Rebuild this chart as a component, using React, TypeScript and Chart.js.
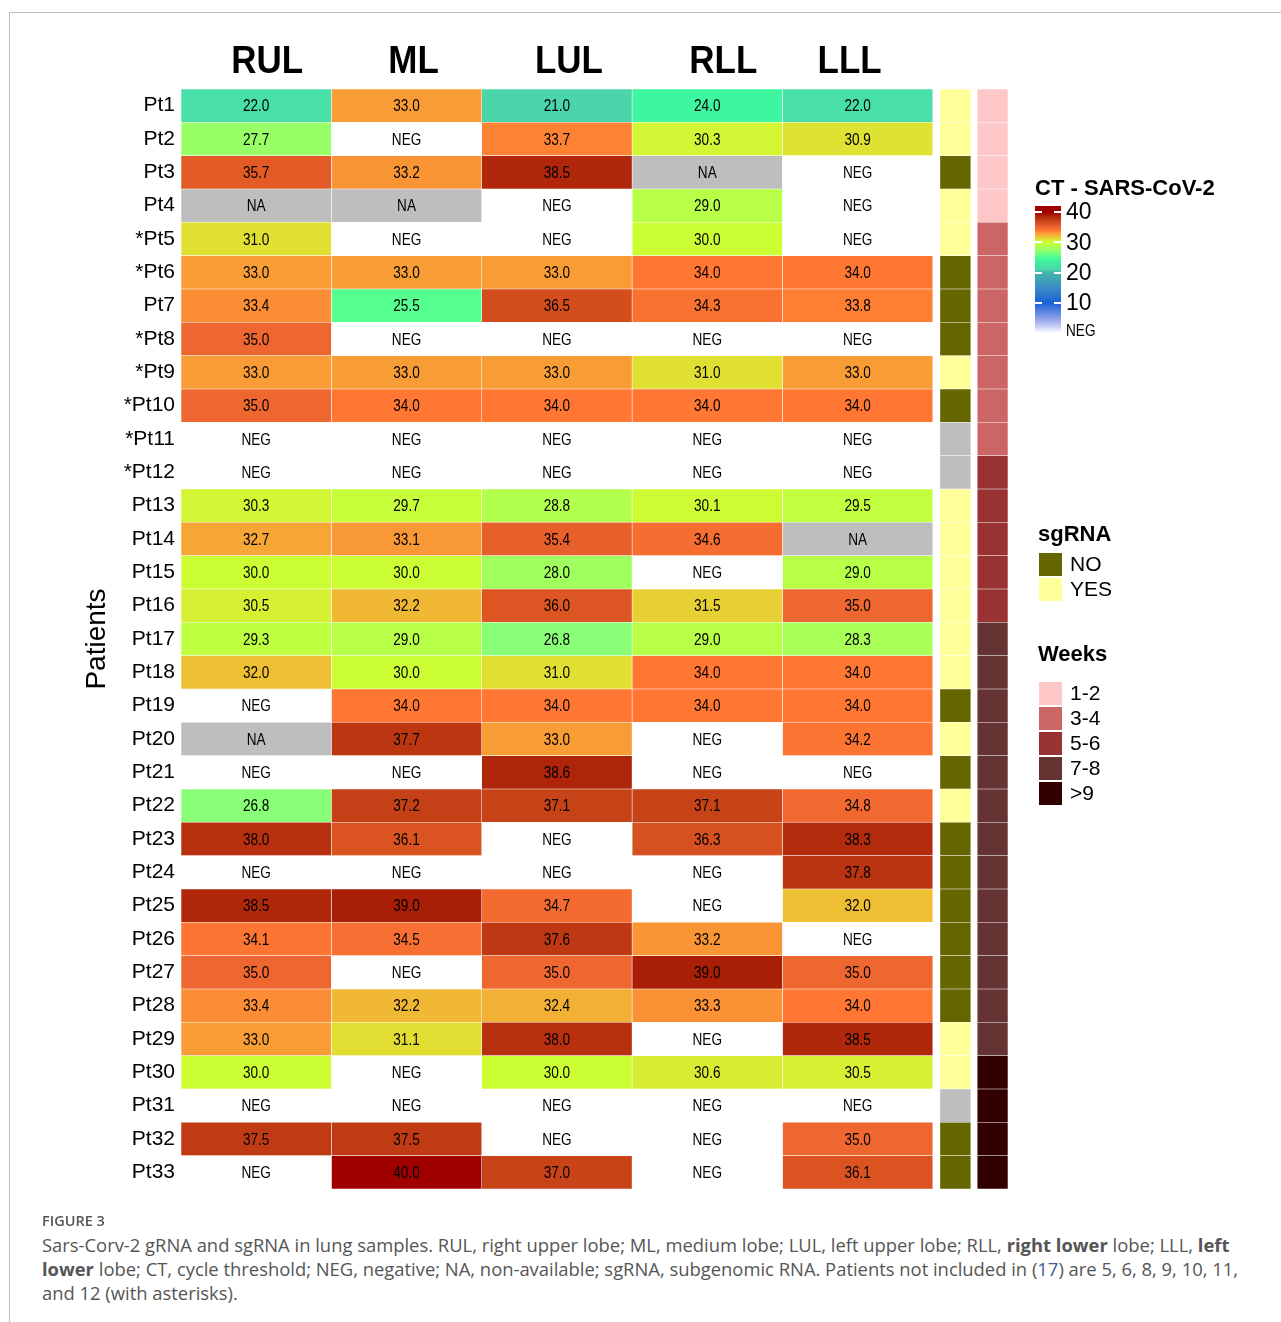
import React, { useEffect, useRef } from 'react';
import { Chart, registerables } from 'chart.js';

Chart.register(...registerables);

// ---- data ----
const patients = [
  'Pt1', 'Pt2', 'Pt3', 'Pt4', '*Pt5', '*Pt6', 'Pt7', '*Pt8', '*Pt9', '*Pt10', '*Pt11',
  '*Pt12', 'Pt13', 'Pt14', 'Pt15', 'Pt16', 'Pt17', 'Pt18', 'Pt19', 'Pt20', 'Pt21', 'Pt22',
  'Pt23', 'Pt24', 'Pt25', 'Pt26', 'Pt27', 'Pt28', 'Pt29', 'Pt30', 'Pt31', 'Pt32', 'Pt33',
];

const lobes = ['RUL', 'ML', 'LUL', 'RLL', 'LLL'];

type Ct = number | 'NEG' | 'NA';

const ctRUL: Ct[] = [22.0, 27.7, 35.7, 'NA', 31.0, 33.0, 33.4, 35.0, 33.0, 35.0, 'NEG', 'NEG', 30.3, 32.7, 30.0, 30.5, 29.3, 32.0, 'NEG', 'NA', 'NEG', 26.8, 38.0, 'NEG', 38.5, 34.1, 35.0, 33.4, 33.0, 30.0, 'NEG', 37.5, 'NEG'];
const ctML: Ct[] = [33.0, 'NEG', 33.2, 'NA', 'NEG', 33.0, 25.5, 'NEG', 33.0, 34.0, 'NEG', 'NEG', 29.7, 33.1, 30.0, 32.2, 29.0, 30.0, 34.0, 37.7, 'NEG', 37.2, 36.1, 'NEG', 39.0, 34.5, 'NEG', 32.2, 31.1, 'NEG', 'NEG', 37.5, 40.0];
const ctLUL: Ct[] = [21.0, 33.7, 38.5, 'NEG', 'NEG', 33.0, 36.5, 'NEG', 33.0, 34.0, 'NEG', 'NEG', 28.8, 35.4, 28.0, 36.0, 26.8, 31.0, 34.0, 33.0, 38.6, 37.1, 'NEG', 'NEG', 34.7, 37.6, 35.0, 32.4, 38.0, 30.0, 'NEG', 'NEG', 37.0];
const ctRLL: Ct[] = [24.0, 30.3, 'NA', 29.0, 30.0, 34.0, 34.3, 'NEG', 31.0, 34.0, 'NEG', 'NEG', 30.1, 34.6, 'NEG', 31.5, 29.0, 34.0, 34.0, 'NEG', 'NEG', 37.1, 36.3, 'NEG', 'NEG', 33.2, 39.0, 33.3, 'NEG', 30.6, 'NEG', 'NEG', 'NEG'];
const ctLLL: Ct[] = [22.0, 30.9, 'NEG', 'NEG', 'NEG', 34.0, 33.8, 'NEG', 33.0, 34.0, 'NEG', 'NEG', 29.5, 'NA', 29.0, 35.0, 28.3, 34.0, 34.0, 34.2, 'NEG', 34.8, 38.3, 37.8, 32.0, 'NEG', 35.0, 34.0, 38.5, 30.5, 'NEG', 35.0, 36.1];

const ctByLobe: Ct[][] = [ctRUL, ctML, ctLUL, ctRLL, ctLLL];

const sgRNA = ['YES', 'YES', 'NO', 'YES', 'YES', 'NO', 'NO', 'NO', 'YES', 'NO', 'NA', 'NA', 'YES', 'YES', 'YES', 'YES', 'YES', 'YES', 'NO', 'YES', 'NO', 'YES', 'NO', 'NO', 'NO', 'NO', 'NO', 'NO', 'YES', 'YES', 'NA', 'NO', 'NO'];

const weeks = ['1-2', '1-2', '1-2', '1-2', '3-4', '3-4', '3-4', '3-4', '3-4', '3-4', '3-4', '5-6', '5-6', '5-6', '5-6', '5-6', '7-8', '7-8', '7-8', '7-8', '7-8', '7-8', '7-8', '7-8', '7-8', '7-8', '7-8', '7-8', '7-8', '>9', '>9', '>9', '>9'];

const ctTicks = [40, 30, 20, 10];
const sgLevels = ['NO', 'YES'];
const weekLevels = ['1-2', '3-4', '5-6', '7-8', '>9'];

// ---- styles ----
const SG_COLORS: Record<string, string> = { NO: '#666600', YES: '#FFFF99', NA: '#BEBEBE' };
const WEEK_COLORS: Record<string, string> = {
  '1-2': '#FFC8C8', '3-4': '#CC6666', '5-6': '#993333', '7-8': '#663333', '>9': '#330000',
};
const NA_COLOR = '#BEBEBE';

// CT colour ramp (value -> rgb)
const RAMP: [number, number[]][] = [
  [0, [255, 255, 255]],
  [4, [160, 172, 238]],
  [10, [26, 96, 214]],
  [15, [58, 140, 200]],
  [20, [68, 180, 168]],
  [21, [74, 214, 170]],
  [22, [72, 223, 168]],
  [24, [62, 245, 160]],
  [25.5, [85, 255, 144]],
  [26.8, [136, 255, 119]],
  [27.7, [153, 255, 102]],
  [29, [184, 255, 72]],
  [30, [204, 255, 51]],
  [31, [224, 224, 51]],
  [32, [238, 191, 51]],
  [33, [248, 156, 54]],
  [34, [255, 119, 51]],
  [35, [238, 102, 48]],
  [36, [221, 85, 34]],
  [37, [200, 68, 24]],
  [38, [184, 48, 16]],
  [39, [168, 30, 6]],
  [40, [160, 0, 0]],
];

function rampColor(v: number): string {
  if (v <= RAMP[0][0]) return `rgb(${RAMP[0][1].join(',')})`;
  for (let k = 1; k < RAMP.length; k++) {
    const [v1, c1] = RAMP[k];
    if (v <= v1) {
      const [v0, c0] = RAMP[k - 1];
      const t = (v - v0) / (v1 - v0);
      const c = c0.map((a, i) => Math.round(a + (c1[i] - a) * t));
      return `rgb(${c.join(',')})`;
    }
  }
  return `rgb(${RAMP[RAMP.length - 1][1].join(',')})`;
}

function ctColor(v: Ct): string {
  if (v === 'NEG') return '#FFFFFF';
  if (v === 'NA') return NA_COLOR;
  return rampColor(v);
}

const ARIAL = '"Liberation Sans", Arial, Helvetica, sans-serif';

// x ranges of the two annotation strips (in lobe-column units)
const SG_SPAN: [number, number] = [5.047, 5.253];
const WEEK_SPAN: [number, number] = [5.295, 5.5];
const HEADER_SHIFT = [11, 7, 12, 16, -8];

// horizontally condensed text
function condensedText(ctx: CanvasRenderingContext2D, text: string, x: number, y: number, sx: number) {
  ctx.save();
  ctx.translate(x, y);
  ctx.scale(sx, 1);
  ctx.fillText(text, 0, 0);
  ctx.restore();
}

const overlay = {
  id: 'heatOverlay',
  afterDatasetsDraw(chart: any) {
    const { ctx } = chart;
    ctx.save();
    ctx.fillStyle = '#000';
    ctx.textAlign = 'center';
    ctx.textBaseline = 'middle';
    ctx.font = `17px ${ARIAL}`;
    ctByLobe.forEach((vals, i) => {
      const meta = chart.getDatasetMeta(i);
      meta.data.forEach((bar: any, j: number) => {
        const v = vals[j];
        const txt = typeof v === 'number' ? v.toFixed(1) : v;
        const p = bar.getProps(['x', 'y', 'base'], true);
        condensedText(ctx, txt, (p.x + p.base) / 2, p.y + 1, 0.8);
      });
    });

    // lobe headers
    const xs = chart.scales.x;
    ctx.font = `bold 38px ${ARIAL}`;
    ctx.textBaseline = 'alphabetic';
    lobes.forEach((l, i) => {
      condensedText(ctx, l, xs.getPixelForValue(i + 0.5) + HEADER_SHIFT[i], 73, 0.92);
    });
    ctx.restore();
  },
  afterDraw(chart: any) {
    const { ctx } = chart;
    ctx.save();
    const lx = chart.chartArea.right + 27;

    // CT colour bar
    ctx.fillStyle = '#000';
    ctx.textAlign = 'left';
    ctx.textBaseline = 'alphabetic';
    ctx.font = `bold 22px ${ARIAL}`;
    ctx.fillText('CT - SARS-CoV-2', lx, 195);

    const y40 = 212;
    const pxPerUnit = 3.033;
    const yOf = (v: number) => y40 + (40 - v) * pxPerUnit;
    const barW = 26;
    for (let y = Math.round(yOf(42)); y < Math.round(yOf(0)); y++) {
      const v = 40 - (y + 0.5 - y40) / pxPerUnit;
      ctx.fillStyle = rampColor(v);
      ctx.fillRect(lx, y, barW, 1);
    }
    ctx.fillStyle = '#FFFFFF';
    ctTicks.forEach((t) => {
      const y = Math.round(yOf(t));
      ctx.fillRect(lx, y - 1, 7, 2);
      ctx.fillRect(lx + barW - 7, y - 1, 7, 2);
    });
    ctx.fillStyle = '#000';
    ctx.textBaseline = 'middle';
    ctx.font = `23px ${ARIAL}`;
    ctTicks.forEach((t) => {
      ctx.fillText(String(t), lx + 31, yOf(t) + 1);
    });
    ctx.font = `17px ${ARIAL}`;
    condensedText(ctx, 'NEG', lx + 31, 331, 0.8);

    // sgRNA legend
    const bx = lx + 4;
    ctx.textBaseline = 'alphabetic';
    ctx.font = `bold 22px ${ARIAL}`;
    ctx.fillText('sgRNA', bx - 1, 541);
    ctx.textBaseline = 'middle';
    ctx.font = `21px ${ARIAL}`;
    sgLevels.forEach((s, k) => {
      const y = 553 + k * 25;
      ctx.fillStyle = SG_COLORS[s];
      ctx.fillRect(bx, y, 23, 23);
      ctx.fillStyle = '#000';
      ctx.fillText(s, bx + 31, y + 12);
    });

    // Weeks legend
    ctx.textBaseline = 'alphabetic';
    ctx.font = `bold 22px ${ARIAL}`;
    ctx.fillText('Weeks', bx - 1, 661);
    ctx.textBaseline = 'middle';
    ctx.font = `21px ${ARIAL}`;
    weekLevels.forEach((w, k) => {
      const y = 682 + k * 25;
      ctx.fillStyle = WEEK_COLORS[w];
      ctx.fillRect(bx, y, 23, 23);
      ctx.fillStyle = '#000';
      ctx.fillText(w, bx + 31, y + 12);
    });
    ctx.restore();
  },
};

const CANVAS_W = 1281;
const CANVAS_H = 1212;

export default function App() {
  const ref = useRef<HTMLCanvasElement>(null);

  useEffect(() => {
    if (!ref.current) return;
    const common = {
      grouped: false,
      barPercentage: 1,
      categoryPercentage: 1,
      borderSkipped: false,
      borderWidth: 0.6,
    };
    const datasets: any[] = ctByLobe.map((vals, i) => ({
      ...common,
      label: lobes[i],
      data: vals.map(() => [i, i + 1]),
      backgroundColor: vals.map(ctColor),
      borderColor: 'rgba(255,255,255,0.55)',
    }));
    datasets.push({
      ...common,
      label: 'sgRNA',
      data: sgRNA.map(() => SG_SPAN),
      backgroundColor: sgRNA.map((s) => SG_COLORS[s]),
      borderColor: 'rgba(255,255,255,0.45)',
    });
    datasets.push({
      ...common,
      label: 'Weeks',
      data: weeks.map(() => WEEK_SPAN),
      backgroundColor: weeks.map((w) => WEEK_COLORS[w]),
      borderColor: 'rgba(255,255,255,0.25)',
    });

    const chart = new Chart(ref.current, {
      type: 'bar',
      data: { labels: patients, datasets },
      options: {
        indexAxis: 'y',
        animation: false,
        responsive: false,
        events: [],
        layout: { padding: { top: 89, left: 0, right: CANVAS_W - 1008, bottom: CANVAS_H - 1189 } },
        plugins: { legend: { display: false }, tooltip: { enabled: false } },
        scales: {
          x: { type: 'linear', min: 0, max: 5.5, display: false },
          y: {
            type: 'category',
            offset: true,
            grid: { display: false, drawTicks: false, tickLength: 0 },
            border: { display: false },
            ticks: { color: '#000', font: { size: 21, family: ARIAL }, padding: 6, autoSkip: false },
            title: {
              display: true,
              text: 'Patients',
              color: '#000',
              font: { size: 28, family: ARIAL },
              padding: { top: 80, bottom: 0 },
            },
            afterFit: (scale: any) => {
              scale.width = 181;
            },
          },
        },
      } as any,
      plugins: [overlay],
    });
    return () => chart.destroy();
  }, []);

  const cap: React.CSSProperties = {
    position: 'absolute',
    left: 42,
    whiteSpace: 'nowrap',
    fontFamily: '"Open Sans", "Noto Sans", sans-serif',
    fontSize: 18.4,
    color: '#555',
  };

  return (
    <div style={{ position: 'absolute', left: 0, top: 0, width: 1281, height: 1322, background: '#fff', overflow: 'hidden' }}>
      <div style={{ position: 'absolute', left: 9, top: 12, width: 1272, height: 1310, borderTop: '1px solid #bbb', borderLeft: '1px solid #bbb' }} />
      <canvas ref={ref} width={CANVAS_W} height={CANVAS_H} style={{ position: 'absolute', left: 0, top: 0, display: 'block' }} />
      <div style={{ ...cap, top: 1211, fontSize: 14.5, fontWeight: 600, color: '#555' }}>FIGURE 3</div>
      <div style={{ ...cap, top: 1233, lineHeight: '24px' }}>
        Sars-Corv-2 gRNA and sgRNA in lung samples. RUL, right upper lobe; ML, medium lobe; LUL, left upper lobe; RLL, <b>right lower</b> lobe; LLL, <b>left</b>
        <br />
        <b>lower</b> lobe; CT, cycle threshold; NEG, negative; NA, non-available; sgRNA, subgenomic RNA. Patients not included in (<span style={{ color: '#3d5a9e' }}>17</span>) are 5, 6, 8, 9, 10, 11,
        <br />
        and 12 (with asterisks).
      </div>
    </div>
  );
}
